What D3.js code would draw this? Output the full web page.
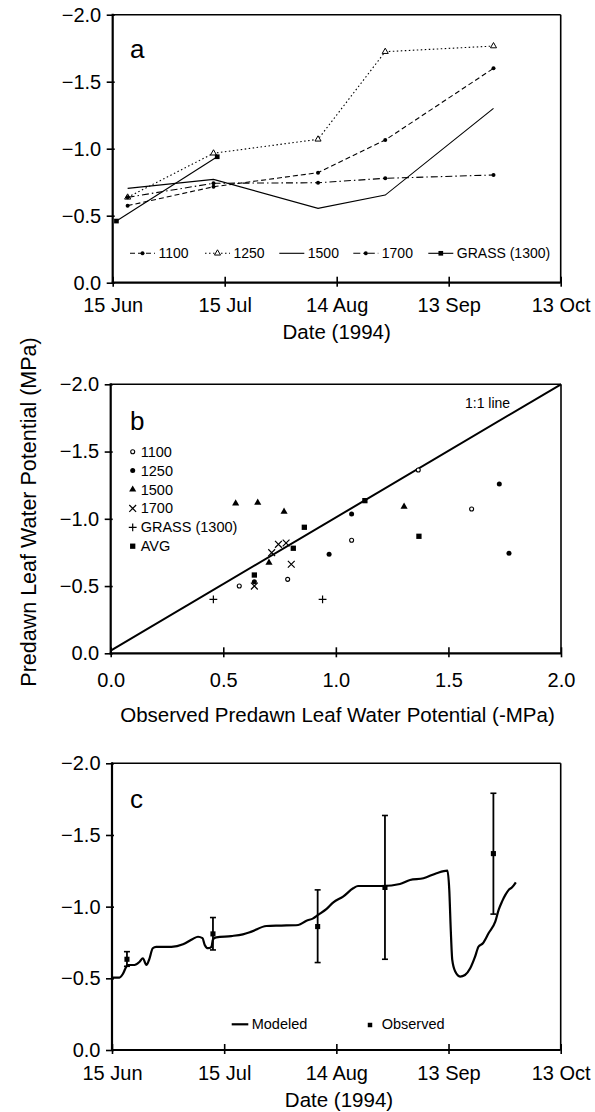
<!DOCTYPE html>
<html><head><meta charset="utf-8">
<script src="https://cdn.jsdelivr.net/npm/d3@7"></script>
<style>
body{margin:0;background:#fff;}
svg{display:block;}
text{font-family:"Liberation Sans",Arial,Helvetica,sans-serif;fill:#000;}
</style></head><body>
<script>
// ---------- DATA ----------
// Panel a: observed predawn leaf water potential (MPa) by site
const sitesA = ["1100","1250","1500","1700","GRASS (1300)"];
const datesA = ["1994-06-19","1994-07-12","1994-08-09","1994-08-27","1994-09-25"];
const obs1100 = [-0.575,-0.716,-0.821,-1.065,-1.600];
const obs1250 = [-0.637,-0.966,-1.070,-1.724,-1.766];
const obs1500 = [-0.704,-0.771,-0.555,-0.654,-1.301];
const obs1700 = [-0.637,-0.742,-0.746,-0.779,-0.804];
const datesGrass = ["1994-06-16","1994-07-13"];
const obsGrass = [-0.460,-0.940];

// Panel b: observed (-MPa) vs predicted (MPa)
const seriesB = ["1100","1250","1500","1700","GRASS (1300)","AVG"];
const b1100Obs = [0.571,0.786,1.070,1.603,1.366];
const b1100Pred = [-0.500,-0.550,-0.840,-1.073,-1.363];
const b1250Obs = [0.638,0.970,1.070,1.726,1.769];
const b1250Pred = [-0.532,-0.736,-1.036,-1.259,-0.743];
const b1500Obs = [0.555,0.653,0.770,0.703,1.303];
const b1500Pred = [-1.115,-1.120,-1.053,-0.674,-1.090];
const b1700Obs = [0.638,0.745,0.779,0.715,0.802];
const b1700Pred = [-0.500,-0.810,-0.820,-0.748,-0.662];
const bGrassObs = [0.456,0.941];
const bGrassPred = [-0.401,-0.401];
const bAvgObs = [0.638,0.811,0.860,1.129,1.369];
const bAvgPred = [-0.582,-0.781,-0.937,-1.135,-0.870];
const oneToOne = [[0,-0.02],[2,-2]];

// Panel c: modeled (days after 15 Jun 1994) and observed with ranges
const modelDay = [0,2,2.9,3.8,4.2,6,7.4,8.25,9.2,9.9,10.9,11.8,15.9,19,21.6,23,24.2,24.8,25.7,26.6,27,27.9,31.9,35,37.3,41.3,45.3,49.8,52,53.8,55.1,57.4,59.2,61.8,64.5,65.8,72.5,77,79.7,83.3,86.8,89.7,90.2,90.6,91,91.8,93.1,94.4,95.8,97.1,98,99.2,100.7,102.5,103.4,104.3,105.2,106.1,107,108];
const modelValue = [-0.505,-0.505,-0.53,-0.58,-0.593,-0.593,-0.616,-0.64,-0.593,-0.628,-0.71,-0.72,-0.72,-0.737,-0.775,-0.79,-0.78,-0.733,-0.71,-0.72,-0.772,-0.786,-0.795,-0.807,-0.826,-0.865,-0.868,-0.872,-0.902,-0.918,-0.942,-0.985,-1.03,-1.07,-1.128,-1.144,-1.144,-1.158,-1.186,-1.198,-1.233,-1.251,-1.117,-0.837,-0.628,-0.547,-0.512,-0.523,-0.57,-0.651,-0.72,-0.745,-0.814,-0.895,-0.977,-1.035,-1.082,-1.117,-1.135,-1.17];
const obsDatesC = ["1994-06-19","1994-07-12","1994-08-09","1994-08-27","1994-09-25"];
const obsMeanC = [-0.633,-0.810,-0.861,-1.134,-1.370];
const obsLowC = [-0.584,-0.698,-0.610,-0.633,-0.948];
const obsHighC = [-0.686,-0.924,-1.117,-1.636,-1.791];

const yTicks = [0,-0.5,-1.0,-1.5,-2.0];
const xTicksB = [0,0.5,1.0,1.5,2.0];
const dateTickLabels = ["15 Jun","15 Jul","14 Aug","13 Sep","13 Oct"];
const dateTicks = ["1994-06-15","1994-07-15","1994-08-14","1994-09-13","1994-10-13"];

// ---------- DRAW ----------
const W = 595, H = 1112;
const svg = d3.select("body").append("svg").attr("width", W).attr("height", H);
const parse = d3.utcParse("%Y-%m-%d");
const fmt = d3.format(".1f");
const tickDates = dateTicks.map(parse);
const FONT_TICK = "20px", FONT_TITLE = "20.5px";

function frame(g, x0, x1, y0, y1) {
  g.append("line").attr("x1", x0).attr("x2", x1).attr("y1", y0).attr("y2", y0).attr("stroke", "#000").attr("stroke-width", 1.5);
  g.append("line").attr("x1", x1).attr("x2", x1).attr("y1", y0).attr("y2", y1).attr("stroke", "#000").attr("stroke-width", 1.6);
  g.append("line").attr("x1", x0).attr("x2", x0).attr("y1", y0 - 1).attr("y2", y1 + 1).attr("stroke", "#000").attr("stroke-width", 2.2);
  g.append("line").attr("x1", x0 - 1).attr("x2", x1).attr("y1", y1).attr("y2", y1).attr("stroke", "#000").attr("stroke-width", 2.2);
}

function yAxis(g, y, x0) {
  const ax = g.append("g").attr("transform", `translate(${x0},0)`)
    .call(d3.axisLeft(y).tickValues(yTicks).tickFormat(fmt).tickSize(6).tickPadding(6).tickSizeOuter(0));
  ax.select(".domain").remove();
  ax.selectAll(".tick line").attr("x1", 2).attr("stroke-width", 1.6);
  ax.selectAll(".tick text").style("font-size", FONT_TICK).attr("font-family", null).attr("x", -11.5);
}

function xAxis(g, axisGen, y1, labelY) {
  const ax = g.append("g").attr("transform", `translate(0,${y1})`).call(axisGen.tickSize(4).tickSizeOuter(0));
  ax.select(".domain").remove();
  ax.selectAll(".tick line").attr("y1", -6).attr("stroke-width", 1.6);
  ax.selectAll(".tick text").style("font-size", FONT_TICK).attr("font-family", null).attr("y", labelY).attr("dy", 0);
}

// ===== Panel a =====
{
  const L = 112.7, R = 560.7, T = 14.7, B = 282.7;
  const g = svg.append("g");
  const x = d3.scaleUtc().domain([tickDates[0], tickDates[4]]).range([L, R]);
  const y = d3.scaleLinear().domain([0, -2]).range([B, T]);
  const defs = [
    {name: sitesA[0], dates: datesA, vals: obs1100, dash: "5,3", mark: "dot"},
    {name: sitesA[1], dates: datesA, vals: obs1250, dash: "1.5,2.5", mark: "tri"},
    {name: sitesA[2], dates: datesA, vals: obs1500, dash: null, mark: null},
    {name: sitesA[3], dates: datesA, vals: obs1700, dash: "7,3,1.5,3", mark: "dot"},
    {name: sitesA[4], dates: datesGrass, vals: obsGrass, dash: null, mark: "sq"}
  ];
  const line = d3.line().x(d => x(d[0])).y(d => y(d[1]));
  function marker(sel, type) {
    if (type === "dot") sel.append("circle").attr("r", 2).attr("fill", "#000");
    if (type === "tri") sel.append("path").attr("d", d3.symbol(d3.symbolTriangle, 16)()).attr("fill", "#fff").attr("stroke", "#000").attr("stroke-width", 1);
    if (type === "sq") sel.append("path").attr("d", d3.symbol(d3.symbolSquare, 22)()).attr("fill", "#000");
  }
  defs.forEach(s => {
    const pts = s.dates.map((d, i) => [parse(d), s.vals[i]]);
    g.append("path").attr("d", line(pts)).attr("fill", "none").attr("stroke", "#000")
      .attr("stroke-width", 1.1).attr("stroke-dasharray", s.dash);
    if (s.mark) pts.forEach(p => marker(g.append("g").attr("transform", `translate(${x(p[0])},${y(p[1])})`), s.mark));
  });
  frame(g, L, R, T, B);
  yAxis(g, y, L);
  xAxis(g, d3.axisBottom(x).tickValues(tickDates).tickFormat((d, i) => dateTickLabels[i]), B, 29.5);
  g.append("text").attr("x", 336.7).attr("y", B + 56.5).attr("text-anchor", "middle").style("font-size", FONT_TITLE).text("Date (1994)");
  g.append("text").attr("x", 130).attr("y", 58).style("font-size", "26px").text("a");
  // legend
  const legX = [130, 205, 279.3, 353.3, 428.3];
  const legY = 253.3;
  defs.forEach((s, i) => {
    const lg = g.append("g");
    lg.append("line").attr("x1", legX[i]).attr("x2", legX[i] + 25).attr("y1", legY).attr("y2", legY)
      .attr("stroke", "#000").attr("stroke-width", 1.1).attr("stroke-dasharray", s.dash);
    if (s.mark) marker(lg.append("g").attr("transform", `translate(${legX[i] + 12.5},${legY})`), s.mark);
    lg.append("text").attr("x", legX[i] + 28.5).attr("y", legY + 5).style("font-size", "14px").text(s.name);
  });
}

// ===== Panel b =====
{
  const L = 110.7, R = 561, T = 384.3, B = 653.3;
  const g = svg.append("g");
  const x = d3.scaleLinear().domain([0, 2]).range([L, R]);
  const y = d3.scaleLinear().domain([0, -2]).range([B, T]);
  g.append("path").attr("d", d3.line().x(d => x(d[0])).y(d => y(d[1]))(oneToOne))
    .attr("fill", "none").attr("stroke", "#000").attr("stroke-width", 2);
  const sym = {
    "1100": sel => sel.append("circle").attr("r", 2).attr("fill", "#fff").attr("stroke", "#000").attr("stroke-width", 1.1),
    "1250": sel => sel.append("circle").attr("r", 2.5).attr("fill", "#000"),
    "1500": sel => sel.append("path").attr("d", d3.symbol(d3.symbolTriangle, 22)()).attr("fill", "#000"),
    "1700": sel => sel.append("path").attr("d", d3.symbol(d3.symbolTimes, 32)()).attr("fill", "none").attr("stroke", "#000").attr("stroke-width", 1.2),
    "GRASS (1300)": sel => sel.append("path").attr("d", d3.symbol(d3.symbolPlus, 22)()).attr("fill", "none").attr("stroke", "#000").attr("stroke-width", 1.2),
    "AVG": sel => sel.append("path").attr("d", d3.symbol(d3.symbolSquare, 28)()).attr("fill", "#000")
  };
  const sets = [
    [seriesB[0], b1100Obs, b1100Pred], [seriesB[1], b1250Obs, b1250Pred], [seriesB[2], b1500Obs, b1500Pred],
    [seriesB[3], b1700Obs, b1700Pred], [seriesB[4], bGrassObs, bGrassPred], [seriesB[5], bAvgObs, bAvgPred]
  ];
  sets.forEach(([name, xs, ys]) => {
    xs.forEach((v, i) => sym[name](g.append("g").attr("transform", `translate(${x(v)},${y(ys[i])})`)));
  });
  frame(g, L, R, T, B);
  yAxis(g, y, L);
  xAxis(g, d3.axisBottom(x).tickValues(xTicksB).tickFormat(fmt), B, 34);
  g.append("text").attr("x", 337.5).attr("y", B + 69).attr("text-anchor", "middle").style("font-size", FONT_TITLE)
    .text("Observed Predawn Leaf Water Potential (-MPa)");
  g.append("text").attr("x", 130).attr("y", 430).style("font-size", "26px").text("b");
  g.append("text").attr("x", 465).attr("y", 407.5).style("font-size", "14px").text("1:1 line");
  seriesB.forEach((name, i) => {
    const cy = 451.7 + i * 18.9;
    sym[name](g.append("g").attr("transform", `translate(132.7,${cy})`));
    g.append("text").attr("x", 140.7).attr("y", cy + 5).style("font-size", "14.5px").text(name);
  });
}

// shared y title
svg.append("text").attr("transform", "translate(36,512) rotate(-90)").attr("text-anchor", "middle")
  .style("font-size", "21.5px").text("Predawn Leaf Water Potential (MPa)");

// ===== Panel c =====
{
  const L = 112, R = 560.7, T = 763.3, B = 1050;
  const g = svg.append("g");
  const x = d3.scaleUtc().domain([tickDates[0], tickDates[4]]).range([L, R]);
  const y = d3.scaleLinear().domain([0, -2]).range([B, T]);
  const t0 = tickDates[0].getTime();
  const model = modelDay.map((d, i) => [new Date(t0 + d * 864e5), modelValue[i]]);
  g.append("path").attr("d", d3.line().curve(d3.curveMonotoneX).x(d => x(d[0])).y(d => y(d[1]))(model))
    .attr("fill", "none").attr("stroke", "#000").attr("stroke-width", 2.2).attr("stroke-linejoin", "round");
  obsDatesC.forEach((ds, i) => {
    const cx = x(parse(ds));
    g.append("line").attr("x1", cx).attr("x2", cx).attr("y1", y(obsLowC[i])).attr("y2", y(obsHighC[i])).attr("stroke", "#000").attr("stroke-width", 1.8);
    [obsLowC[i], obsHighC[i]].forEach(v => g.append("line").attr("x1", cx - 3).attr("x2", cx + 3).attr("y1", y(v)).attr("y2", y(v)).attr("stroke", "#000").attr("stroke-width", 1.6));
    g.append("path").attr("transform", `translate(${cx},${y(obsMeanC[i])})`).attr("d", d3.symbol(d3.symbolSquare, 26)()).attr("fill", "#000");
  });
  frame(g, L, R, T, B);
  yAxis(g, y, L);
  xAxis(g, d3.axisBottom(x).tickValues(tickDates).tickFormat((d, i) => dateTickLabels[i]), B, 29.5);
  g.append("text").attr("x", 339).attr("y", B + 56.7).attr("text-anchor", "middle").style("font-size", FONT_TITLE).text("Date (1994)");
  g.append("text").attr("x", 130).attr("y", 808).style("font-size", "26px").text("c");
  // legend
  g.append("line").attr("x1", 231.7).attr("x2", 248.3).attr("y1", 1024.3).attr("y2", 1024.3).attr("stroke", "#000").attr("stroke-width", 2.2);
  g.append("text").attr("x", 251.7).attr("y", 1029.3).style("font-size", "14.5px").text("Modeled");
  g.append("path").attr("transform", "translate(370,1025)").attr("d", d3.symbol(d3.symbolSquare, 20)()).attr("fill", "#000");
  g.append("text").attr("x", 381.7).attr("y", 1029.3).style("font-size", "14.5px").text("Observed");
}
</script>
</body></html>
